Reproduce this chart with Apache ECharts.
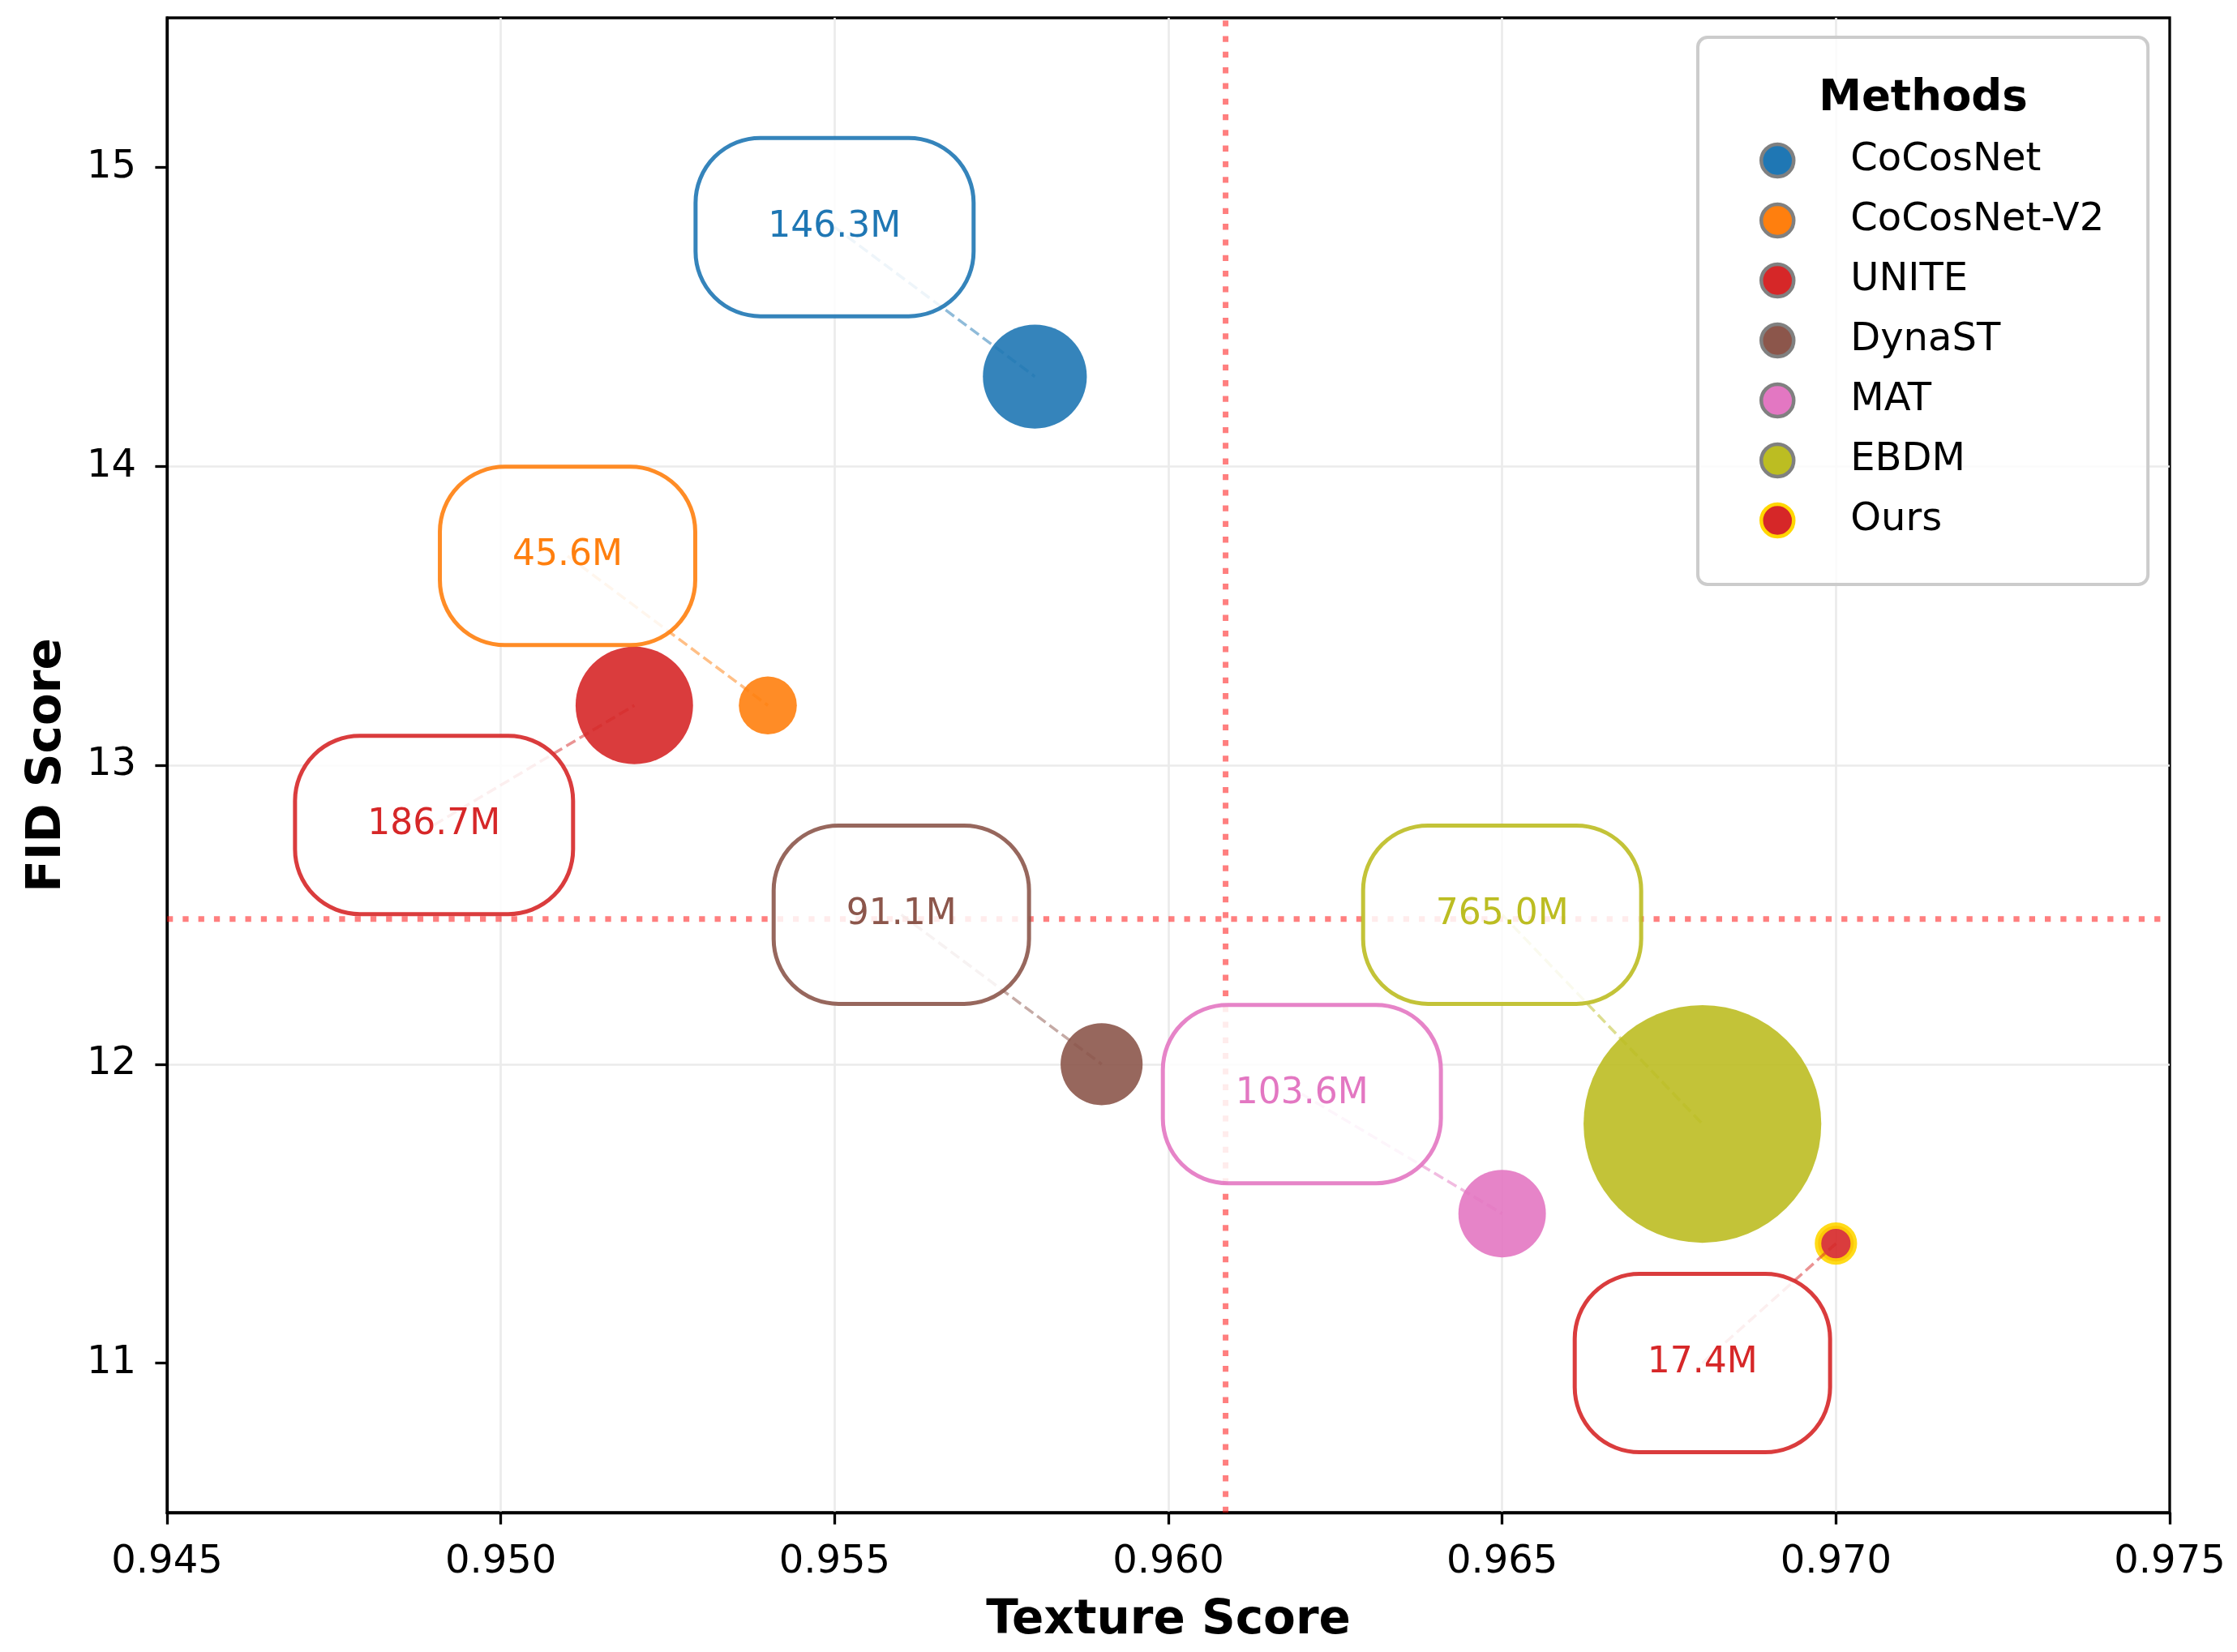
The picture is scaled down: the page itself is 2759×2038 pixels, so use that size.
<!DOCTYPE html>
<html>
<head>
<meta charset="utf-8">
<script src="https://cdn.jsdelivr.net/npm/echarts@6/dist/echarts.min.js"></script>
<style>
html,body{margin:0;padding:0;background:#fff;}
#chart{width:2759px;height:2038px;}
</style>
</head>
<body>
<div id="chart"></div>
<script>
// ---- data ----
const methods = ['CoCosNet', 'CoCosNet-V2', 'UNITE', 'DynaST', 'MAT', 'EBDM', 'Ours'];
const textureScores = [0.958, 0.954, 0.952, 0.959, 0.965, 0.968, 0.970];
const fidScores = [14.3, 13.2, 13.2, 12.0, 11.5, 11.8, 11.4];
const paramsM = [146.3, 45.6, 186.7, 91.1, 103.6, 765.0, 17.4];
// annotation anchor (data coords) for each parameter label
const labelTexture = [0.955, 0.951, 0.949, 0.956, 0.962, 0.965, 0.968];
const labelFid = [14.8, 13.7, 12.8, 12.5, 11.9, 12.5, 11.0];
const xTicks = [0.945, 0.950, 0.955, 0.960, 0.965, 0.970, 0.975];
const yTicks = [11, 12, 13, 14, 15];
const xRange = [0.945, 0.975];
const yRange = [10.5, 15.5];

// ---- styles ----
const colors = ['#1f77b4', '#ff7f0e', '#d62728', '#8c564b', '#e377c2', '#bcbd22', '#d62728'];
const FONT = 'DejaVu Sans';
const sizeK = 10.6;

function rgba(hex, a) {
  const n = parseInt(hex.slice(1), 16);
  return 'rgba(' + ((n >> 16) & 255) + ',' + ((n >> 8) & 255) + ',' + (n & 255) + ',' + a + ')';
}
const measureCtx = document.createElement('canvas').getContext('2d');
function textWidth(t, font) { measureCtx.font = font; return measureCtx.measureText(t).width; }

const meanTex = textureScores.reduce((a, b) => a + b, 0) / textureScores.length;
const meanFid = fidScores.reduce((a, b) => a + b, 0) / fidScores.length;

const series = [];

// mean reference lines (dotted)
const refLine = { color: 'rgba(255,0,0,0.5)', width: 7, type: [7.3, 12], cap: 'butt' };
series.push({
  type: 'line', z: 1, silent: true, symbol: 'none',
  data: [[meanTex, yRange[0]], [meanTex, yRange[1]]],
  lineStyle: refLine, emphasis: { disabled: true }
});
series.push({
  type: 'line', z: 1, silent: true, symbol: 'none',
  data: [[xRange[0], meanFid], [xRange[1], meanFid]],
  lineStyle: refLine, emphasis: { disabled: true }
});

// bubbles
methods.forEach((m, i) => {
  const isOurs = m === 'Ours';
  series.push({
    name: m,
    type: 'scatter',
    z: 2,
    silent: true,
    data: [[textureScores[i], fidScores[i], paramsM[i]]],
    symbolSize: d => sizeK * Math.sqrt(d[2]),
    itemStyle: {
      color: colors[i],
      opacity: 0.9,
      borderColor: isOurs ? '#FFD700' : 'transparent',
      borderWidth: isOurs ? 8 : 0
    },
    emphasis: { disabled: true }
  });
});

// leader lines
methods.forEach((m, i) => {
  series.push({
    type: 'line',
    z: 3,
    silent: true,
    symbol: 'none',
    data: [[labelTexture[i], labelFid[i]], [textureScores[i], fidScores[i]]],
    lineStyle: { color: colors[i], width: 3.5, type: [13, 6], opacity: 0.5 },
    emphasis: { disabled: true }
  });
});

// label boxes
const labelFont = '44px "DejaVu Sans"';
series.push({
  type: 'custom',
  z: 5,
  silent: true,
  data: methods.map((m, i) => [labelTexture[i], labelFid[i], paramsM[i]]),
  renderItem: function (params, api) {
    const i = params.dataIndex;
    const c = api.coord([api.value(0), api.value(1)]);
    const txt = Number(api.value(2)).toFixed(1) + 'M';
    const w = textWidth(txt, labelFont) + 179;
    const h = 220;
    return {
      type: 'group',
      children: [
        {
          type: 'rect',
          shape: { x: c[0] - w / 2, y: c[1] - h / 2, width: w, height: h, r: 80 },
          style: { fill: 'rgba(255,255,255,0.85)', stroke: rgba(colors[i], 0.9), lineWidth: 5 }
        },
        {
          type: 'text',
          x: c[0], y: c[1],
          style: { text: txt, fill: colors[i], font: labelFont, align: 'center', verticalAlign: 'middle' }
        }
      ]
    };
  }
});

const axisCommon = {
  type: 'value',
  nameLocation: 'middle',
  nameTextStyle: { fontFamily: FONT, fontWeight: 'bold', fontSize: 58, color: '#000' },
  axisLine: { show: true, onZero: false, lineStyle: { color: '#000', width: 3.3 } },
  splitLine: { show: true, showMinLine: false, showMaxLine: false, lineStyle: { color: '#ebebeb', width: 2.7 } }
};

const option = {
  backgroundColor: '#ffffff',
  animation: false,
  textStyle: { fontFamily: FONT },
  grid: { left: 206, right: 83, top: 22, bottom: 172, show: true, borderColor: '#000', borderWidth: 3.3, backgroundColor: 'transparent' },
  xAxis: Object.assign({}, axisCommon, {
    min: xRange[0], max: xRange[1],
    name: 'Texture Score', nameGap: 105,
    axisTick: { show: true, length: 14.6, lineStyle: { color: '#000', width: 3.3 }, customValues: xTicks },
    axisLabel: { customValues: xTicks, formatter: v => Number(v).toFixed(3), fontSize: 48, color: '#000', margin: 38, fontFamily: FONT }
  }),
  yAxis: Object.assign({}, axisCommon, {
    min: yRange[0], max: yRange[1],
    name: 'FID Score', nameGap: 118, nameRotate: 90,
    axisTick: { show: true, length: 14.6, lineStyle: { color: '#000', width: 3.3 }, customValues: yTicks },
    axisLabel: { customValues: yTicks, formatter: v => String(Math.round(v)), fontSize: 48, color: '#000', margin: 38, fontFamily: FONT }
  }),
  legend: {
    orient: 'vertical',
    left: 2094, top: 46,
    padding: [128, 54, 55, 76],
    itemWidth: 170, itemHeight: 40, itemGap: 26,
    icon: 'circle',
    selectedMode: false,
    backgroundColor: 'rgba(255,255,255,0.8)',
    borderColor: '#cccccc', borderWidth: 4, borderRadius: 12,
    textStyle: { fontSize: 48, fontFamily: FONT, color: '#000', lineHeight: 40 },
    data: methods.map((m, i) => ({
      name: m,
      itemStyle: { color: colors[i], opacity: 1, borderColor: m === 'Ours' ? '#FFD700' : '#808080', borderWidth: 4.5 }
    }))
  },
  graphic: [{
    type: 'text', x: 2372, y: 122, z: 100,
    style: { text: 'Methods', font: 'bold 53px "DejaVu Sans"', fill: '#000', align: 'center', verticalAlign: 'middle' }
  }],
  series: series
};

const chart = echarts.init(document.getElementById('chart'), null, { renderer: 'canvas' });
chart.setOption(option);
</script>
</body>
</html>
